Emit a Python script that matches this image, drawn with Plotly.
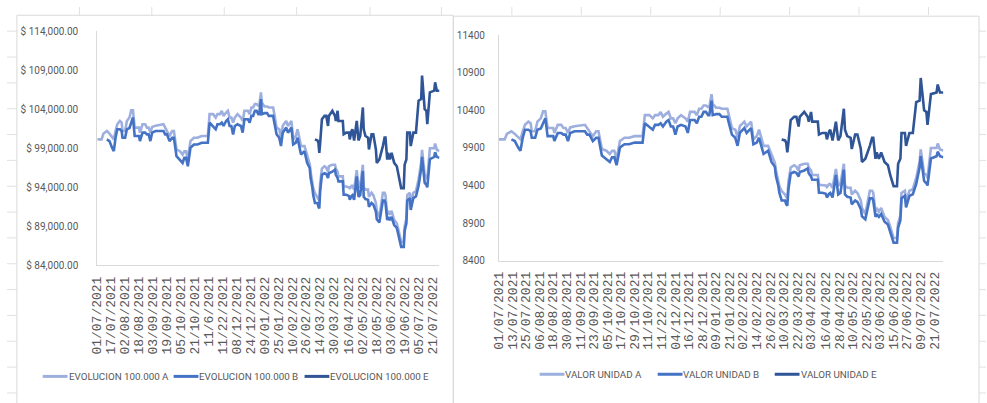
import plotly.graph_objects as go

# ---------------- data ----------------
DATES = [
    "2021-07-01", "2021-07-06", "2021-07-08", "2021-07-11", "2021-07-12", "2021-07-15", "2021-07-18", "2021-07-20",
    "2021-07-22", "2021-07-24", "2021-07-27", "2021-07-29", "2021-07-30", "2021-08-02", "2021-08-04", "2021-08-07",
    "2021-08-09", "2021-08-11", "2021-08-13", "2021-08-18", "2021-08-19", "2021-08-22", "2021-08-25", "2021-08-27",
    "2021-08-29", "2021-08-31", "2021-09-02", "2021-09-06", "2021-09-15", "2021-09-17", "2021-09-19", "2021-09-22",
    "2021-09-25", "2021-09-27", "2021-09-30", "2021-10-04", "2021-10-07", "2021-10-09", "2021-10-11", "2021-10-13",
    "2021-10-16", "2021-10-20", "2021-10-24", "2021-10-29", "2021-11-05", "2021-11-07", "2021-11-11", "2021-11-14",
    "2021-11-16", "2021-11-19", "2021-11-21", "2021-11-23", "2021-11-26", "2021-11-28", "2021-11-30", "2021-12-02",
    "2021-12-04", "2021-12-06", "2021-12-09", "2021-12-13", "2021-12-15", "2021-12-17", "2021-12-21", "2021-12-23",
    "2021-12-25", "2021-12-27", "2021-12-29", "2021-12-31", "2022-01-02", "2022-01-03", "2022-01-05", "2022-01-06",
    "2022-01-09", "2022-01-12", "2022-01-14", "2022-01-19", "2022-01-20", "2022-01-23", "2022-01-26", "2022-01-28",
    "2022-01-30", "2022-02-03", "2022-02-05", "2022-02-09", "2022-02-11", "2022-02-14", "2022-02-16", "2022-02-18",
    "2022-02-20", "2022-02-24", "2022-02-27", "2022-03-02", "2022-03-03", "2022-03-05", "2022-03-06", "2022-03-08",
    "2022-03-11", "2022-03-12", "2022-03-13", "2022-03-14", "2022-03-16", "2022-03-19", "2022-03-21", "2022-03-23",
    "2022-03-24", "2022-03-28", "2022-03-31", "2022-04-01", "2022-04-03", "2022-04-04", "2022-04-09", "2022-04-10",
    "2022-04-13", "2022-04-16", "2022-04-17", "2022-04-19", "2022-04-20", "2022-04-22", "2022-04-25", "2022-04-27",
    "2022-04-29", "2022-05-02", "2022-05-03", "2022-05-05", "2022-05-08", "2022-05-09", "2022-05-12", "2022-05-14",
    "2022-05-17", "2022-05-18", "2022-05-21", "2022-05-25", "2022-05-27", "2022-05-28", "2022-05-30", "2022-05-31",
    "2022-06-02", "2022-06-04", "2022-06-07", "2022-06-10", "2022-06-12", "2022-06-15", "2022-06-18", "2022-06-19",
    "2022-06-21", "2022-06-22", "2022-06-25", "2022-06-26", "2022-06-29", "2022-07-02", "2022-07-05", "2022-07-08",
    "2022-07-09", "2022-07-12", "2022-07-14", "2022-07-15", "2022-07-18", "2022-07-23", "2022-07-24", "2022-07-26",
    "2022-07-29",
]

UNIT_A = [
    10014, 10014, 10087, 10122, 10122, 10087, 10040, 10014, 10120, 10208, 10250, 10230, 10122, 10122, 10250, 10294,
    10388, 10388, 10165, 10165, 10100, 10208, 10208, 10165, 10165, 10100, 10173, 10190, 10208, 10165, 10122, 10057,
    10122, 10122, 9885, 9863, 9820, 9863, 9863, 9756, 9992, 10035, 10035, 10057, 10057, 10337, 10337, 10294,
    10337, 10337, 10380, 10315, 10358, 10380, 10294, 10294, 10229, 10294, 10337, 10294, 10250, 10380, 10380, 10337,
    10423, 10423, 10466, 10466, 10444, 10444, 10616, 10487, 10436, 10436, 10423, 10423, 10358, 10165, 10143, 10040,
    10190, 10250, 10186, 10250, 10014, 10057, 10143, 10014, 9928, 9928, 9820, 9700, 9600, 9470, 9390, 9326,
    9280, 9250, 9230, 9450, 9640, 9670, 9650, 9600, 9670, 9690, 9690, 9640, 9600, 9540, 9540, 9410,
    9410, 9400, 9380, 9420, 9420, 9370, 9620, 9400, 9420, 9690, 9400, 9370, 9370, 9280, 9330, 9300,
    9200, 9100, 9020, 9330, 9330, 9300, 9050, 9100, 9050, 9100, 8980, 8940, 8850, 8700, 8700, 8900,
    9000, 9300, 9330, 9180, 9330, 9350, 9500, 9720, 9880, 9560, 9540, 9500, 9900, 9900, 9960, 9880,
    9865,
]

UNIT_B = [
    None, None, None, None, 10014, 9992, 9906, 9863, 10035, 10143, 10143, 10122, 10035, 10035, 10143, 10160,
    10229, 10294, 10057, 10057, 9992, 10100, 10100, 10078, 10078, 9992, 10100, 10122, 10122, 10078, 10078, 9992,
    10035, 10035, 9799, 9756, 9713, 9777, 9777, 9670, 9906, 9949, 9949, 9971, 9971, 10229, 10186, 10143,
    10208, 10208, 10229, 10186, 10250, 10272, 10186, 10186, 10078, 10186, 10208, 10186, 10100, 10272, 10272, 10229,
    10315, 10315, 10380, 10380, 10337, 10337, 10530, 10337, 10350, 10350, 10315, 10315, 10250, 10078, 10035, 9928,
    10100, 10165, 10100, 10165, 9949, 9971, 10035, 9928, 9820, 9863, 9713, 9648, 9519, 9400, 9300, 9200,
    9200, 9150, 9130, 9350, 9560, 9580, 9570, 9520, 9580, 9600, 9627, 9560, 9520, 9476, 9476, 9304,
    9304, 9290, 9240, 9290, 9300, 9240, 9540, 9280, 9300, 9610, 9280, 9250, 9240, 9150, 9200, 9180,
    9089, 8990, 8950, 9230, 9230, 9200, 8981, 9020, 8981, 9020, 8917, 8880, 8780, 8637, 8637, 8840,
    8938, 9230, 9262, 9110, 9262, 9283, 9420, 9640, 9790, 9460, 9430, 9400, 9760, 9790, 9850, 9790,
    9777,
]

UNIT_E = [
    None, None, None, None, None, None, None, None, None, None, None, None, None, None, None, None,
    None, None, None, None, None, None, None, None, None, None, None, None, None, None, None, None,
    None, None, None, None, None, None, None, None, None, None, None, None, None, None, None, None,
    None, None, None, None, None, None, None, None, None, None, None, None, None, None, None, None,
    None, None, None, None, None, None, None, None, None, None, None, None, None, None, None, None,
    None, None, None, None, None, None, None, None, None, None, None, None, None, None, None, 10014,
    10000, 9970, 9842, 9970, 10272, 10315, 10315, 10186, 10315, 10380, 10315, 10250, 10380, 10250, 10250, 10079,
    10100, 10100, 10014, 10122, 10143, 10000, 10250, 10000, 10057, 10423, 10143, 10057, 10035, 9885, 10079, 10079,
    9885, 9713, 9756, 9928, 10036, 10036, 9756, 9842, 9756, 9842, 9713, 9670, 9540, 9390, 9390, 9690,
    9756, 10100, 10100, 9928, 10100, 10100, 10510, 10530, 10832, 10401, 10380, 10208, 10617, 10638, 10745, 10638,
    10638,
]

EVOL_A = [
    100140, 100140, 100870, 101220, 101220, 100870, 100400, 100140, 101200, 102080, 102500, 102300, 101220, 101220, 102500, 102940,
    103880, 103880, 101650, 101650, 101000, 102080, 102080, 101650, 101650, 101000, 101730, 101900, 102080, 101650, 101220, 100570,
    101220, 101220, 98850, 98630, 98200, 98630, 98630, 97560, 99920, 100350, 100350, 100570, 100570, 103370, 103370, 102940,
    103370, 103370, 103800, 103150, 103580, 103800, 102940, 102940, 102290, 102940, 103370, 102940, 102500, 103800, 103800, 103370,
    104230, 104230, 104660, 104660, 104440, 104440, 106160, 104870, 104360, 104360, 104230, 104230, 103580, 101650, 101430, 100400,
    101900, 102500, 101860, 102500, 100140, 100570, 101430, 100140, 99280, 99280, 98200, 97000, 96000, 94700, 93900, 93260,
    92800, 92500, 92300, 94500, 96400, 96700, 96500, 96000, 96700, 96900, 96900, 96400, 96000, 95400, 95400, 94100,
    94100, 94000, 93800, 94200, 94200, 93700, 96200, 94000, 94200, 96900, 94000, 93700, 93700, 92800, 93300, 93000,
    92000, 91000, 90200, 93300, 93300, 93000, 90500, 91000, 90500, 91000, 89800, 89400, 88500, 87000, 87000, 89000,
    90000, 93000, 93300, 91800, 93300, 93500, 95000, 97200, 98800, 95600, 95400, 95000, 99000, 99000, 99600, 98800,
    98650,
]

EVOL_B = [
    None, None, None, None, 100140, 99920, 99060, 98630, 100350, 101430, 101430, 101220, 100350, 100350, 101430, 101600,
    102290, 102940, 100570, 100570, 99920, 101000, 101000, 100780, 100780, 99920, 101000, 101220, 101220, 100780, 100780, 99920,
    100350, 100350, 97990, 97560, 97130, 97770, 97770, 96700, 99060, 99490, 99490, 99710, 99710, 102290, 101860, 101430,
    102080, 102080, 102290, 101860, 102500, 102720, 101860, 101860, 100780, 101860, 102080, 101860, 101000, 102720, 102720, 102290,
    103150, 103150, 103800, 103800, 103370, 103370, 105300, 103370, 103500, 103500, 103150, 103150, 102500, 100780, 100350, 99280,
    101000, 101650, 101000, 101650, 99490, 99710, 100350, 99280, 98200, 98630, 97130, 96480, 95190, 94000, 93000, 92000,
    92000, 91500, 91300, 93500, 95600, 95800, 95700, 95200, 95800, 96000, 96270, 95600, 95200, 94760, 94760, 93040,
    93040, 92900, 92400, 92900, 93000, 92400, 95400, 92800, 93000, 96100, 92800, 92500, 92400, 91500, 92000, 91800,
    90890, 89900, 89500, 92300, 92300, 92000, 89810, 90200, 89810, 90200, 89170, 88800, 87800, 86370, 86370, 88400,
    89380, 92300, 92620, 91100, 92620, 92830, 94200, 96400, 97900, 94600, 94300, 94000, 97600, 97900, 98500, 97900,
    97770,
]

EVOL_E = [
    None, None, None, None, None, None, None, None, None, None, None, None, None, None, None, None,
    None, None, None, None, None, None, None, None, None, None, None, None, None, None, None, None,
    None, None, None, None, None, None, None, None, None, None, None, None, None, None, None, None,
    None, None, None, None, None, None, None, None, None, None, None, None, None, None, None, None,
    None, None, None, None, None, None, None, None, None, None, None, None, None, None, None, None,
    None, None, None, None, None, None, None, None, None, None, None, None, None, None, None, 100140,
    100000, 99700, 98420, 99700, 102720, 103150, 103150, 101860, 103150, 103800, 103150, 102500, 103800, 102500, 102500, 100790,
    101000, 101000, 100140, 101220, 101430, 100000, 102500, 100000, 100570, 104230, 101430, 100570, 100350, 98850, 100790, 100790,
    98850, 97130, 97560, 99280, 100360, 100360, 97560, 98420, 97560, 98420, 97130, 96700, 95400, 93900, 93900, 96900,
    97560, 101000, 101000, 99280, 101000, 101000, 105100, 105300, 108320, 104010, 103800, 102080, 106170, 106380, 107450, 106380,
    106380,
]

LEFT_NAMES = ["EVOLUCION 100.000 A", "EVOLUCION 100.000 B", "EVOLUCION 100.000 E"]
RIGHT_NAMES = ["VALOR UNIDAD A", "VALOR UNIDAD B", "VALOR UNIDAD E"]

LEFT_TICK_DATES = [
    "2021-07-01", "2021-07-17", "2021-08-02", "2021-08-18", "2021-09-03", "2021-09-19", "2021-10-05", "2021-10-21",
    "2021-11-06", "2021-11-22", "2021-12-08", "2021-12-24", "2022-01-09", "2022-01-25", "2022-02-10", "2022-02-26",
    "2022-03-14", "2022-03-30", "2022-04-16", "2022-05-02", "2022-05-18", "2022-06-03", "2022-06-19", "2022-07-05",
    "2022-07-21",
]
LEFT_TICK_LABELS = [
    "01/07/2021", "17/07/2021", "02/08/2021", "18/08/2021", "03/09/2021", "19/09/2021", "05/10/2021", "21/10/2021",
    "11/6/2021", "11/22/2021", "08/12/2021", "24/12/2021", "09/01/2022", "25/01/2022", "10/02/2022", "26/02/2022",
    "14/03/2022", "30/03/2022", "16/04/2022", "02/05/2022", "18/05/2022", "03/06/2022", "19/06/2022", "05/07/2022",
    "21/07/2022",
]
RIGHT_TICK_DATES = [
    "2021-07-01", "2021-07-13", "2021-07-25", "2021-08-06", "2021-08-18", "2021-08-30", "2021-09-11", "2021-09-23",
    "2021-10-05", "2021-10-17", "2021-10-29", "2021-11-10", "2021-11-22", "2021-12-04", "2021-12-16", "2021-12-28",
    "2022-01-09", "2022-01-21", "2022-02-02", "2022-02-14", "2022-02-26", "2022-03-10", "2022-03-22", "2022-04-03",
    "2022-04-16", "2022-04-28", "2022-05-10", "2022-05-22", "2022-06-03", "2022-06-15", "2022-06-27", "2022-07-09",
    "2022-07-21",
]
RIGHT_TICK_LABELS = [
    "01/07/2021", "13/07/2021", "25/07/2021", "06/08/2021", "18/08/2021", "30/08/2021", "11/09/2021", "23/09/2021",
    "05/10/2021", "17/10/2021", "29/10/2021", "11/10/2021", "11/22/2021", "04/12/2021", "16/12/2021", "28/12/2021",
    "09/01/2022", "21/01/2022", "02/02/2022", "14/02/2022", "26/02/2022", "10/03/2022", "22/03/2022", "03/04/2022",
    "16/04/2022", "28/04/2022", "10/05/2022", "22/05/2022", "03/06/2022", "15/06/2022", "27/06/2022", "09/07/2022",
    "21/07/2022",
]

# ---------------- styling ----------------
W, H = 987, 403
COLORS = ["#9DAFDE", "#4472C4", "#2F5597"]
TXT = "#595959"
AX = "#D9D9D9"
GRID = "#E1E1E1"
SANS = "Roboto, Liberation Sans, sans-serif"
MONO = "Liberation Mono, DejaVu Sans Mono, monospace"
LEG_SIZE = 9.8


def px(x):
    return x / W


def py(y):
    return 1 - y / H


fig = go.Figure()

for name, vals, col in zip(LEFT_NAMES, [EVOL_A, EVOL_B, EVOL_E], COLORS):
    fig.add_trace(go.Scatter(x=DATES, y=vals, name=name, mode="lines",
                             line=dict(color=col, width=2.6), showlegend=False,
                             xaxis="x", yaxis="y",
                             hovertemplate="%{x}<br>$ %{y:,.2f}<extra>" + name + "</extra>"))
for name, vals, col in zip(RIGHT_NAMES, [UNIT_A, UNIT_B, UNIT_E], COLORS):
    fig.add_trace(go.Scatter(x=DATES, y=vals, name=name, mode="lines",
                             line=dict(color=col, width=2.6), showlegend=False,
                             xaxis="x2", yaxis="y2",
                             hovertemplate="%{x}<br>%{y}<extra>" + name + "</extra>"))

shapes = []
annotations = []
# worksheet cell gridlines visible around the two chart objects
for gx in [73, 146, 219, 292, 366, 438, 509, 579, 649, 719, 789, 859, 929]:
    shapes.append(dict(type="line", xref="paper", yref="paper", x0=px(gx), x1=px(gx), y0=py(8.5), y1=1,
                       line=dict(color=GRID, width=1), layer="below"))
for k in range(15):
    gy = 25 + 26.7 * k
    shapes.append(dict(type="line", xref="paper", yref="paper", x0=0, x1=px(10), y0=py(gy), y1=py(gy),
                       line=dict(color=GRID, width=1), layer="below"))
    shapes.append(dict(type="line", xref="paper", yref="paper", x0=px(980), x1=1, y0=py(gy), y1=py(gy),
                       line=dict(color=GRID, width=1), layer="below"))
# chart-object frames
shapes.append(dict(type="rect", xref="paper", yref="paper", x0=px(10), x1=px(450), y0=-0.02, y1=py(8.5),
                   line=dict(color=AX, width=1), layer="below"))
shapes.append(dict(type="rect", xref="paper", yref="paper", x0=px(450), x1=px(980), y0=-0.02, y1=py(9.5),
                   line=dict(color=AX, width=1), layer="below"))

# legends (one under each chart): sample line + label
LEFT_LEGEND_X = [36, 168, 300]
RIGHT_LEGEND_X = [537, 656, 774]
for names, xs, ly in [(LEFT_NAMES, LEFT_LEGEND_X, 381.7), (RIGHT_NAMES, RIGHT_LEGEND_X, 379.5)]:
    for name, x0, col in zip(names, xs, COLORS):
        shapes.append(dict(type="line", xref="paper", yref="paper", x0=px(x0), x1=px(x0 + 25),
                           y0=py(ly), y1=py(ly), line=dict(color=col, width=3)))
        annotations.append(dict(xref="paper", yref="paper", x=px(x0 + 25), y=py(ly), text=name,
                                showarrow=False, xanchor="left", yanchor="middle", borderpad=0,
                                font=dict(family=SANS, size=LEG_SIZE, color=TXT)))

xcommon = dict(type="date", range=["2021-07-01", "2022-07-29"], tickmode="array", tickangle=-90,
               showline=True, linecolor=AX, linewidth=1, showgrid=False, zeroline=False, ticks="",
               tickfont=dict(family=MONO, size=13, color=TXT), ticklabelstandoff=5)
ycommon = dict(showline=True, linecolor=AX, linewidth=1, showgrid=False, zeroline=False, ticks="",
               tickfont=dict(family=SANS, size=10, color=TXT))

fig.update_layout(
    width=W, height=H,
    margin=dict(l=0, r=0, t=0, b=0),
    paper_bgcolor="white", plot_bgcolor="white",
    shapes=shapes, annotations=annotations,
    xaxis=dict(xcommon, domain=[px(91), px(436)], anchor="y",
               tickvals=LEFT_TICK_DATES, ticktext=LEFT_TICK_LABELS),
    yaxis=dict(ycommon, domain=[py(267), py(25)], anchor="x", range=[84000, 114000],
               tick0=84000, dtick=5000, tickprefix="$ ", tickformat=",.2f", ticklabelstandoff=16),
    xaxis2=dict(xcommon, domain=[px(496), px(944)], anchor="y2",
                tickvals=RIGHT_TICK_DATES, ticktext=RIGHT_TICK_LABELS),
    yaxis2=dict(ycommon, domain=[py(262), py(29.3)], anchor="x2", range=[8400, 11400],
                tick0=8400, dtick=500, tickformat="d", ticklabelstandoff=11),
    showlegend=False,
)

fig.write_html("out.html", config={"displayModeBar": False},
               post_script="document.body.style.margin='0';")
